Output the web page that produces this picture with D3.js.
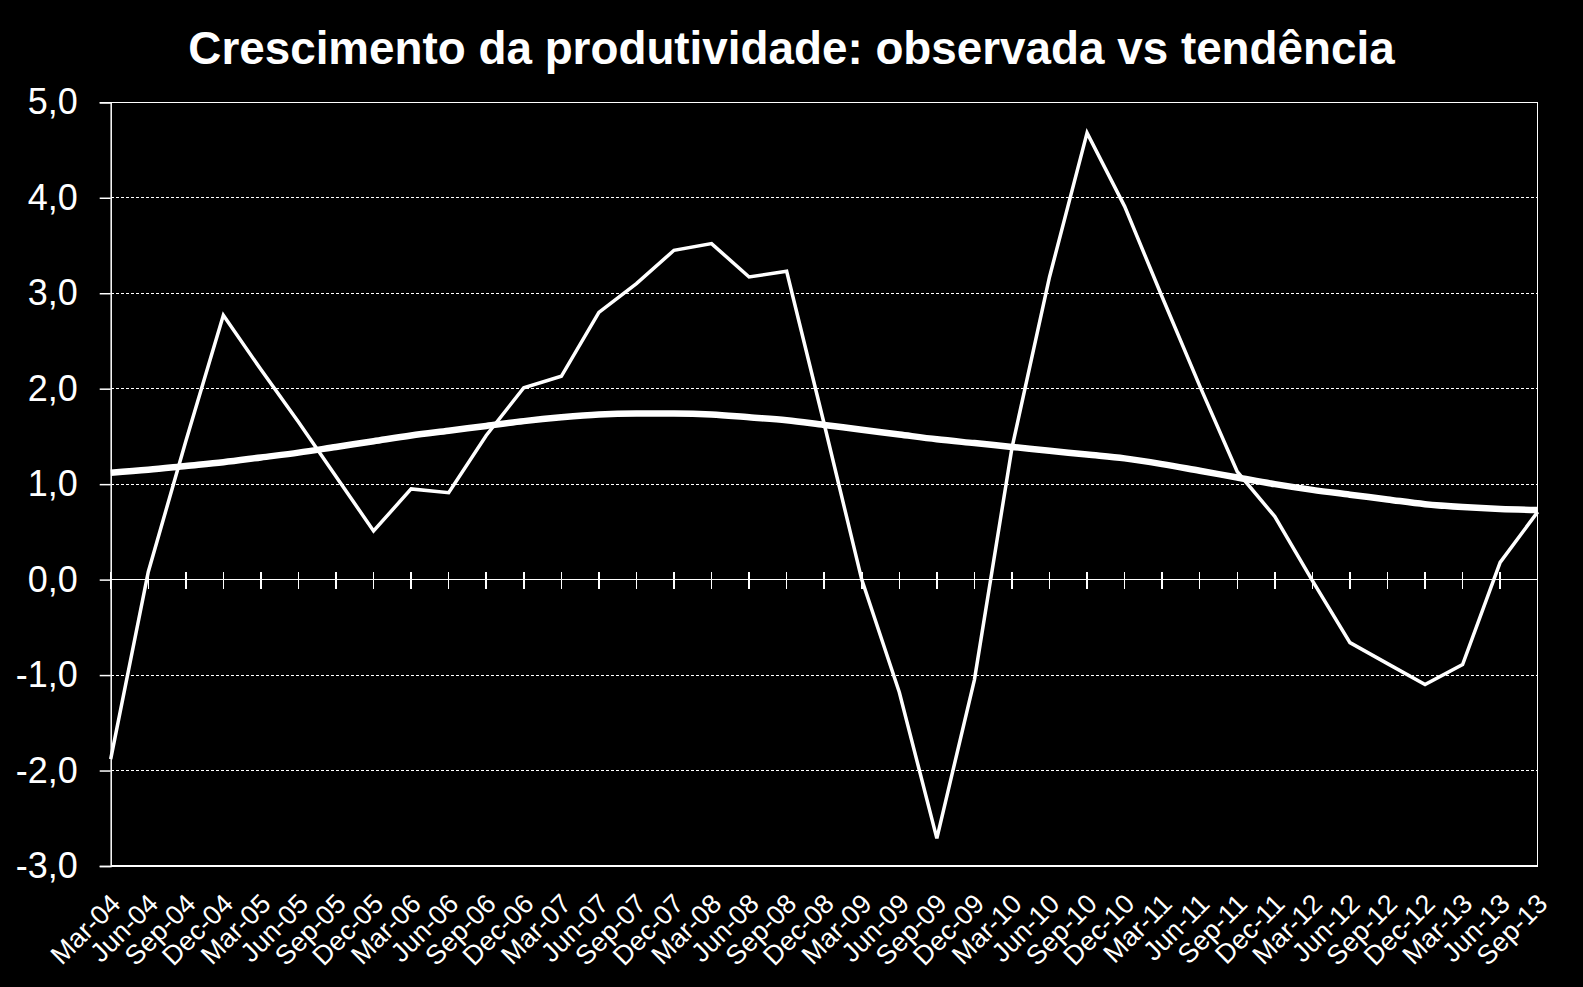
<!DOCTYPE html>
<html>
<head>
<meta charset="utf-8">
<script src="https://cdn.jsdelivr.net/npm/d3@7"></script>
<style>
  html, body { margin: 0; padding: 0; background: #000; }
  svg { display: block; }
  text { font-family: "Liberation Sans", Arial, sans-serif; fill: #fff; }
</style>
</head>
<body>
<svg id="chart" width="1583" height="987"></svg>
<script>
const title = "Crescimento da produtividade: observada vs tendência";

const categories = [
  "Mar-04","Jun-04","Sep-04","Dec-04",
  "Mar-05","Jun-05","Sep-05","Dec-05",
  "Mar-06","Jun-06","Sep-06","Dec-06",
  "Mar-07","Jun-07","Sep-07","Dec-07",
  "Mar-08","Jun-08","Sep-08","Dec-08",
  "Mar-09","Jun-09","Sep-09","Dec-09",
  "Mar-10","Jun-10","Sep-10","Dec-10",
  "Mar-11","Jun-11","Sep-11","Dec-11",
  "Mar-12","Jun-12","Sep-12","Dec-12",
  "Mar-13","Jun-13","Sep-13"
];

const observada = [
  -1.88, 0.08, 1.45, 2.77,
  2.20, 1.65, 1.08, 0.51,
  0.95, 0.91, 1.51, 2.01,
  2.13, 2.80, 3.10, 3.45,
  3.52, 3.17, 3.23, 1.63,
  0.00, -1.18, -2.71, -1.05,
  1.38, 3.17, 4.68, 3.91,
  2.96, 2.03, 1.13, 0.66,
  -0.01, -0.66, -0.88, -1.10,
  -0.89, 0.18, 0.71
];

const tendencia = [
  1.12, 1.15, 1.19, 1.23,
  1.28, 1.33, 1.39, 1.45,
  1.51, 1.56, 1.61, 1.66,
  1.70, 1.73, 1.74, 1.74,
  1.73, 1.70, 1.67, 1.62,
  1.57, 1.52, 1.47, 1.43,
  1.39, 1.35, 1.31, 1.27,
  1.21, 1.14, 1.07, 1.00,
  0.94, 0.89, 0.84, 0.79,
  0.76, 0.74, 0.73
];

const yTicks = [-3, -2, -1, 0, 1, 2, 3, 4, 5];

const svg = d3.select("#chart");
const W = 1583, H = 987;
const plot = { left: 110.7, right: 1537.7, top: 102.3, bottom: 866 };

svg.append("rect").attr("width", W).attr("height", H).attr("fill", "#000");

const x = d3.scalePoint().domain(categories).range([plot.left, plot.right]);
const y = d3.scaleLinear().domain([-3, 5]).range([plot.bottom, plot.top]);

const locale = d3.formatLocale({ decimal: ",", thousands: ".", grouping: [3], currency: ["", ""], minus: "-" });
const fmt = locale.format(".1f");

// title
svg.append("text")
  .attr("x", W / 2).attr("y", 64)
  .attr("text-anchor", "middle")
  .attr("font-size", 45.8).attr("font-weight", "bold")
  .text(title);

// dashed gridlines
svg.append("g").selectAll("line")
  .data(yTicks.filter(d => d !== 0 && d !== -3 && d !== 5))
  .join("line")
  .attr("x1", plot.left).attr("x2", plot.right)
  .attr("y1", d => y(d)).attr("y2", d => y(d))
  .attr("stroke", "#fff").attr("stroke-width", 1)
  .attr("stroke-dasharray", "3,2")
  .attr("shape-rendering", "crispEdges");

// plot frame (top, right, bottom)
svg.append("path")
  .attr("d", `M${plot.left},${y(5)}H${plot.right}V${y(-3)}H${plot.left}`)
  .attr("fill", "none").attr("stroke", "#fff").attr("stroke-width", 1.5)
  .attr("shape-rendering", "crispEdges");

// y axis
const yAxis = d3.axisLeft(y).tickValues(yTicks).tickFormat(fmt).tickSize(11).tickPadding(22);
const gy = svg.append("g").attr("transform", `translate(${plot.left},0)`).call(yAxis);
gy.select(".domain").attr("stroke", "#fff").attr("stroke-width", 1.5);
gy.selectAll(".tick line").attr("stroke", "#fff").attr("stroke-width", 1.5);
gy.selectAll(".tick text")
  .attr("fill", "#fff")
  .attr("font-size", 36)
  .attr("font-family", "'Liberation Sans', Arial, sans-serif");

// zero axis with crossing ticks
svg.append("line")
  .attr("x1", plot.left).attr("x2", plot.right)
  .attr("y1", y(0)).attr("y2", y(0))
  .attr("stroke", "#fff").attr("stroke-width", 1.5)
  .attr("shape-rendering", "crispEdges");
svg.append("g").selectAll("line")
  .data(categories)
  .join("line")
  .attr("x1", d => x(d)).attr("x2", d => x(d))
  .attr("y1", y(0) - 8).attr("y2", y(0) + 9)
  .attr("stroke", "#fff").attr("stroke-width", 1.5)
  .attr("shape-rendering", "crispEdges");

// category labels, rotated
svg.append("g").selectAll("text")
  .data(categories)
  .join("text")
  .attr("transform", d => `translate(${x(d) + 11.5},${905.4}) rotate(-45)`)
  .attr("text-anchor", "end")
  .attr("font-size", 27)
  .text(d => d);

// lines
const obsLine = d3.line()
  .x((d, i) => x(categories[i]))
  .y(d => y(d));
const trendLine = d3.line()
  .x((d, i) => x(categories[i]))
  .y(d => y(d))
  .curve(d3.curveMonotoneX);

svg.append("path")
  .datum(tendencia)
  .attr("d", trendLine)
  .attr("fill", "none").attr("stroke", "#fff")
  .attr("stroke-width", 6.5);

svg.append("path")
  .datum(observada)
  .attr("d", obsLine)
  .attr("fill", "none").attr("stroke", "#fff")
  .attr("stroke-width", 3.5)
  .attr("stroke-linejoin", "miter");
</script>
</body>
</html>
